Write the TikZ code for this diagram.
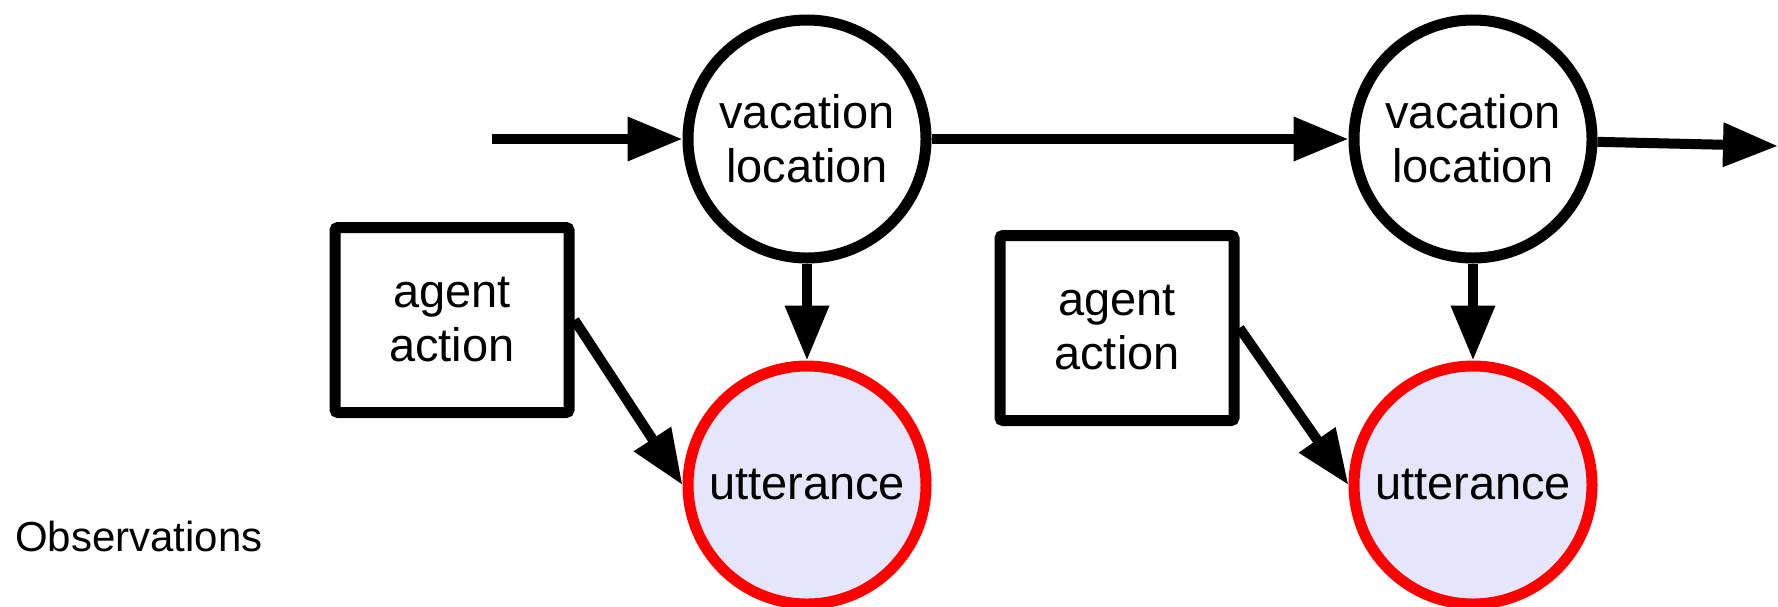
\documentclass[tikz,border=0pt]{standalone}
\usepackage{fontspec}
\setmainfont{Liberation Sans}
\usetikzlibrary{arrows.meta}
\definecolor{uttfill}{RGB}{230,230,250}
\begin{document}
\begin{tikzpicture}[x=1pt,y=-1pt,
  lbl/.style={font=\fontsize{47}{54}\selectfont, align=center},
  hidden/.style={circle, draw=black, line width=11pt, minimum size=238pt, inner sep=0pt, fill=white, lbl},
  observed/.style={circle, draw=red, fill=uttfill, line width=11pt, minimum size=238pt, inner sep=0pt, lbl},
  act/.style={rectangle, draw=black, line width=11pt, minimum width=234pt, minimum height=185pt, inner sep=0pt, rounded corners=3pt, lbl},
  edge/.style={line width=10pt, -{Triangle[length=55pt,width=42pt]}},
]
\useasboundingbox (0,0) rectangle (1778,606);
\node[hidden] (V1) at (807,139) {vacation\\location};
\node[observed] (U1) at (807,485) {utterance};
\node[hidden] (V2) at (1473,139) {vacation\\location};
\node[observed] (U2) at (1473,485) {utterance};
\node[act] (B1) at (452,320) {agent\\action};
\node[act] (B2) at (1117,328) {agent\\action};
\node[anchor=west, inner sep=0pt, font=\fontsize{42}{50}\selectfont] (obs) at (15,536) {Observations};
\coordinate (in) at (492,139);
\coordinate (out) at (1778,146);
\draw[edge] (in) -- (V1);
\draw[edge] (V1) -- (V2);
\draw[edge] (V2) -- (out);
\draw[edge] (V1) -- (U1);
\draw[edge] (V2) -- (U2);
\draw[edge] (B1.east) -- (U1.west);
\draw[edge] (B2.east) -- (U2.west);
\end{tikzpicture}
\end{document}
